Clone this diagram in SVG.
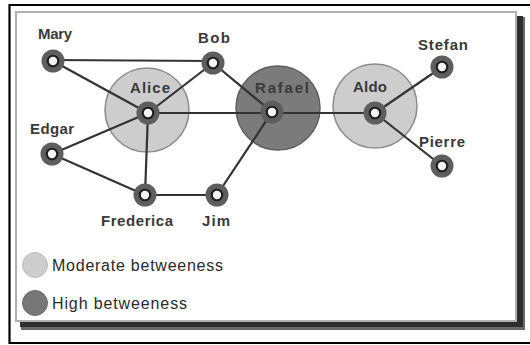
<svg xmlns="http://www.w3.org/2000/svg" width="530" height="345" viewBox="0 0 530 345">
  <style>
    .edge { stroke: #333; stroke-width: 2.2; fill: none; }
    .ring { fill: #5e5e5e; }
    .core { fill: #1e1e1e; }
    .hole { fill: #f4f4f4; }
    .label { font-family: "Liberation Sans", Arial, sans-serif; font-size: 15px; font-weight: bold; fill: #3a3a3a; text-anchor: middle; }
    .legend { font-family: "Liberation Sans", Arial, sans-serif; font-size: 16px; fill: #2a2a2a; }
    .moderate { fill: #cdcdcd; stroke: #8c8c8c; stroke-width: 1.5; }
    .high { fill: #7b7b7b; stroke: #5e5e5e; stroke-width: 1.5; }
  </style>
  <defs>
    <g id="vertex">
      <circle class="ring" r="11.5"/>
      <circle class="core" r="6.3"/>
      <circle class="hole" r="4.2"/>
    </g>
  </defs>

  <!-- outer frame -->
  <rect width="530" height="345" fill="#fff"/>
  <path d="M531,5 H9.5 V343 H531" fill="none" stroke="#000" stroke-width="2.2"/>

  <!-- panel with drop shadow -->
  <rect x="21" y="17" width="504" height="313" fill="#6a6a6a"/>
  <rect x="20" y="16" width="503" height="311" fill="#2e2e2e"/>
  <rect x="16" y="12" width="500" height="309" fill="#fff" stroke="#b0b0b0" stroke-width="2"/>

  <!-- betweenness halos -->
  <g id="halos">
    <circle class="moderate" cx="147" cy="110" r="42"/>
    <circle class="high" cx="278" cy="108" r="42"/>
    <circle class="moderate" cx="375" cy="106" r="42"/>
  </g>

  <!-- connectors -->
  <g id="edges">
    <line class="edge" x1="53" y1="60" x2="213" y2="61"/>
    <line class="edge" x1="53" y1="61" x2="148" y2="113"/>
    <line class="edge" x1="213" y1="63" x2="148" y2="113"/>
    <line class="edge" x1="213" y1="63" x2="272" y2="112"/>
    <line class="edge" x1="148" y1="113" x2="375" y2="113"/>
    <line class="edge" x1="148" y1="113" x2="52" y2="154"/>
    <line class="edge" x1="148" y1="113" x2="145" y2="195"/>
    <line class="edge" x1="52" y1="154" x2="145" y2="195"/>
    <line class="edge" x1="145" y1="195" x2="217" y2="195"/>
    <line class="edge" x1="217" y1="195" x2="272" y2="112"/>
    <line class="edge" x1="375" y1="113" x2="442" y2="67"/>
    <line class="edge" x1="375" y1="113" x2="442" y2="166"/>
  </g>

  <!-- nodes -->
  <g id="mary"><use href="#vertex" x="53" y="61"/><text class="label" x="55" y="39" textLength="34" lengthAdjust="spacing">Mary</text></g>
  <g id="bob"><use href="#vertex" x="213" y="63"/><text class="label" x="214" y="43" textLength="32" lengthAdjust="spacing">Bob</text></g>
  <g id="alice"><use href="#vertex" x="148" y="113"/><text class="label" x="150" y="93" textLength="40" lengthAdjust="spacing">Alice</text></g>
  <g id="rafael"><use href="#vertex" x="272" y="112"/><text class="label" x="282" y="93" textLength="54" lengthAdjust="spacing">Rafael</text></g>
  <g id="aldo"><use href="#vertex" x="375" y="113"/><text class="label" x="370" y="92" textLength="34" lengthAdjust="spacing">Aldo</text></g>
  <g id="stefan"><use href="#vertex" x="442" y="67"/><text class="label" x="443" y="50" textLength="50" lengthAdjust="spacing">Stefan</text></g>
  <g id="pierre"><use href="#vertex" x="442" y="166"/><text class="label" x="442" y="147" textLength="46" lengthAdjust="spacing">Pierre</text></g>
  <g id="edgar"><use href="#vertex" x="52" y="154"/><text class="label" x="52" y="134" textLength="44" lengthAdjust="spacing">Edgar</text></g>
  <g id="frederica"><use href="#vertex" x="145" y="195"/><text class="label" x="137" y="226" textLength="72" lengthAdjust="spacing">Frederica</text></g>
  <g id="jim"><use href="#vertex" x="217" y="195"/><text class="label" x="216" y="226" textLength="28" lengthAdjust="spacing">Jim</text></g>

  <!-- legend -->
  <g id="legend">
    <circle cx="35" cy="265" r="12.5" fill="#cdcdcd" stroke="#bdbdbd" stroke-width="1"/>
    <text class="legend" x="52" y="271" textLength="171" lengthAdjust="spacing">Moderate betweeness</text>
    <circle cx="35" cy="303" r="12.5" fill="#777" stroke="#6a6a6a" stroke-width="1"/>
    <text class="legend" x="52" y="309" textLength="135" lengthAdjust="spacing">High betweeness</text>
  </g>
</svg>
